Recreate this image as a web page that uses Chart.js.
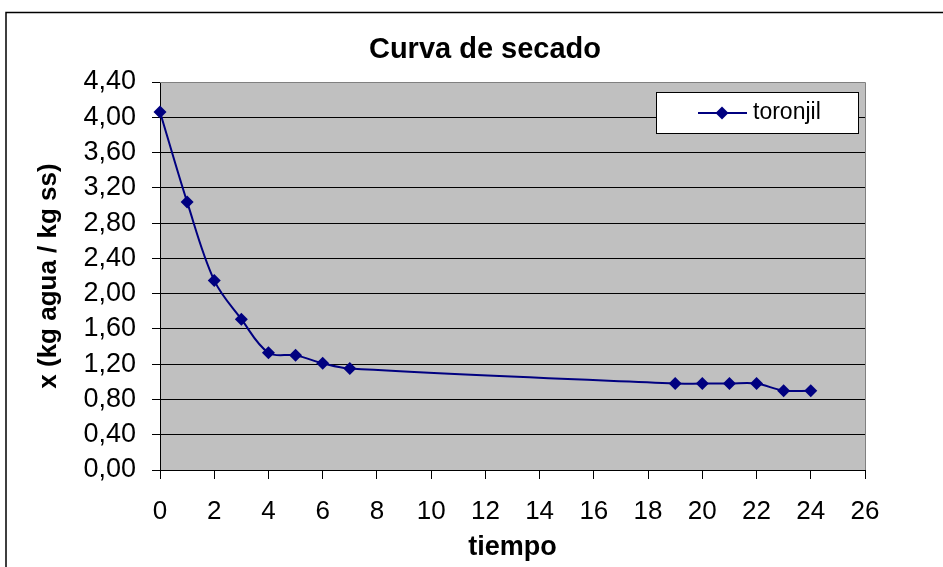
<!DOCTYPE html>
<html>
<head>
<meta charset="utf-8">
<script src="https://cdn.jsdelivr.net/npm/chart.js@4/dist/chart.umd.min.js"></script>
<style>
  html, body { margin: 0; padding: 0; background: #ffffff; }
  #wrap { width: 943px; height: 567px; position: relative; }
</style>
</head>
<body>
<div id="wrap"><canvas id="c" width="943" height="567"></canvas></div>
<script>
// ---- data ----
const tiempo = [0, 1, 2, 3, 4, 5, 6, 7, 19, 20, 21, 22, 23, 24];
const humedad = [4.06, 3.04, 2.15, 1.71, 1.33, 1.30, 1.21, 1.15, 0.98, 0.98, 0.98, 0.98, 0.90, 0.90];
const seriesName = 'toronjil';
const chartTitle = 'Curva de secado';
const xTitle = 'tiempo';
const yTitle = 'x (kg agua / kg ss)';
const xTicks = [0, 2, 4, 6, 8, 10, 12, 14, 16, 18, 20, 22, 24, 26];
const yTicks = [0, 0.4, 0.8, 1.2, 1.6, 2.0, 2.4, 2.8, 3.2, 3.6, 4.0, 4.4];

const FONT = '"Liberation Sans", Arial, sans-serif';
const NAVY = '#000080';

const points = tiempo.map((t, i) => ({ x: t, y: humedad[i] }));

const decorPlugin = {
  id: 'decor',
  beforeDraw(chart) {
    const { ctx, chartArea: a } = chart;
    ctx.save();
    ctx.fillStyle = '#ffffff';
    ctx.fillRect(0, 0, chart.width, chart.height);
    ctx.fillStyle = '#C0C0C0';
    ctx.fillRect(a.left, a.top, a.right - a.left, a.bottom - a.top);
    // outer frame
    ctx.strokeStyle = '#000000';
    ctx.lineWidth = 1.5;
    ctx.strokeRect(6, 12.5, 1000, 700);
    ctx.restore();
  },
  beforeDatasetsDraw(chart) {
    const { ctx, chartArea: a } = chart;
    ctx.save();
    ctx.strokeStyle = '#808080';
    ctx.lineWidth = 1;
    ctx.beginPath();
    ctx.moveTo(a.left, a.top + 0.5);
    ctx.lineTo(a.right + 0.5, a.top + 0.5);
    ctx.lineTo(a.right + 0.5, a.bottom);
    ctx.stroke();
    ctx.restore();
  },
  afterDraw(chart) {
    const { ctx } = chart;
    ctx.save();
    // title
    ctx.fillStyle = '#000000';
    ctx.font = 'bold 29px ' + FONT;
    ctx.textAlign = 'center';
    ctx.textBaseline = 'middle';
    ctx.fillText(chartTitle, 485, 50);
    // legend box
    const bx = 656.5, by = 92.5, bw = 202, bh = 41;
    ctx.fillStyle = '#ffffff';
    ctx.fillRect(bx, by, bw, bh);
    ctx.strokeStyle = '#000000';
    ctx.lineWidth = 1;
    ctx.strokeRect(bx, by, bw, bh);
    const ly = 113;
    ctx.strokeStyle = NAVY;
    ctx.lineWidth = 2;
    ctx.beginPath();
    ctx.moveTo(698, ly);
    ctx.lineTo(747, ly);
    ctx.stroke();
    ctx.fillStyle = NAVY;
    ctx.beginPath();
    ctx.moveTo(722, ly - 6.5);
    ctx.lineTo(728.5, ly);
    ctx.lineTo(722, ly + 6.5);
    ctx.lineTo(715.5, ly);
    ctx.closePath();
    ctx.fill();
    ctx.fillStyle = '#000000';
    ctx.font = '23px ' + FONT;
    ctx.textAlign = 'left';
    ctx.textBaseline = 'middle';
    ctx.fillText(seriesName, 753, ly);
    ctx.restore();
  }
};

new Chart(document.getElementById('c'), {
  type: 'scatter',
  data: {
    datasets: [{
      label: seriesName,
      data: points,
      showLine: true,
      borderColor: NAVY,
      backgroundColor: NAVY,
      borderWidth: 2,
      pointStyle: 'rectRot',
      pointRadius: 6.5,
      pointHoverRadius: 6.5,
      pointBorderWidth: 0,
      pointBackgroundColor: NAVY,
      tension: 0.35,
      clip: false
    }]
  },
  options: {
    responsive: false,
    animation: false,
    devicePixelRatio: 1,
    layout: { padding: { left: 0, top: 82, right: 78, bottom: 0 } },
    plugins: {
      legend: { display: false },
      title: { display: false },
      tooltip: { enabled: false }
    },
    scales: {
      x: {
        type: 'linear',
        position: 'bottom',
        min: 0,
        max: 26,
        afterBuildTicks(scale) { scale.ticks = xTicks.map(v => ({ value: v })); },
        afterFit(scale) { scale.height = 97; },
        ticks: {
          color: '#000000',
          font: { family: FONT, size: 26 },
          padding: 17,
          maxRotation: 0,
          autoSkip: false,
          callback: v => String(v)
        },
        grid: {
          drawOnChartArea: false,
          drawTicks: true,
          tickLength: 9,
          tickColor: '#000000',
          tickWidth: 1
        },
        border: { display: true, color: '#000000', width: 1 },
        title: {
          display: true,
          text: xTitle,
          color: '#000000',
          font: { family: FONT, size: 27, weight: 'bold' },
          padding: { top: 0, bottom: 3 }
        }
      },
      y: {
        type: 'linear',
        position: 'left',
        min: 0,
        max: 4.4,
        afterBuildTicks(scale) { scale.ticks = yTicks.map(v => ({ value: v })); },
        afterFit(scale) { scale.width = 160; },
        ticks: {
          color: '#000000',
          font: { family: FONT, size: 27 },
          padding: 16,
          autoSkip: false,
          callback: v => Number(v).toFixed(2).replace('.', ',')
        },
        grid: {
          color: ctx => (ctx.tick && Math.abs(ctx.tick.value - 4.4) < 1e-6) ? '#808080' : '#000000',
          lineWidth: 1,
          drawTicks: true,
          tickLength: 8,
          tickColor: '#000000',
          tickWidth: 1
        },
        border: { display: true, color: '#000000', width: 1 },
        title: {
          display: true,
          text: yTitle,
          color: '#000000',
          font: { family: FONT, size: 26, weight: 'bold' },
          padding: { top: 33, bottom: 0 }
        }
      }
    }
  },
  plugins: [decorPlugin]
});
</script>
</body>
</html>
